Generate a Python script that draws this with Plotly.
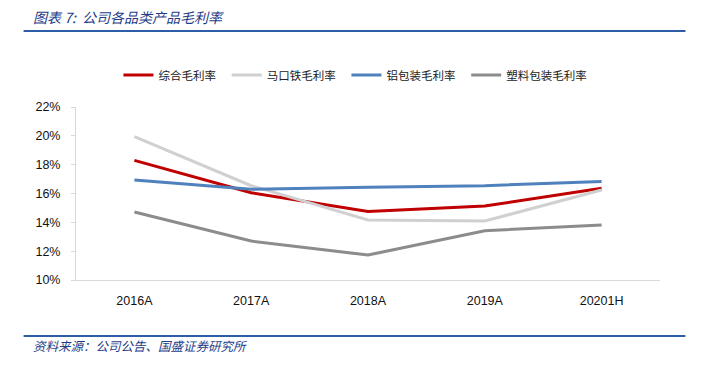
import plotly.graph_objects as go

categories = ["2016A", "2017A", "2018A", "2019A", "20201H"]
zonghe = [18.3, 16.05, 14.76, 15.13, 16.36]
makoutie = [19.94, 16.54, 14.16, 14.09, 16.24]
lvbaozhuang = [16.93, 16.29, 16.43, 16.54, 16.84]
suliao = [14.72, 12.70, 11.73, 13.42, 13.81]
series_names = ["综合毛利率", "马口铁毛利率", "铝包装毛利率", "塑料包装毛利率"]
series_colors = ["#C00000", "#D0D0D0", "#4F81BD", "#8C8C8C"]
y_ticks = [10, 12, 14, 16, 18, 20, 22]

W, H = 706, 376
OFF = 8  # page body margin offset
L, R, T, B = 75.5, 660.5, 107, 280

def px(x):
    return (x - L) / (R - L)

def py(y):
    return (B - y) / (B - T)

fig = go.Figure()
for name, vals, col in zip(series_names, [zonghe, makoutie, lvbaozhuang, suliao], series_colors):
    fig.add_trace(go.Scatter(x=categories, y=vals, mode="lines", name=name + "\u2002",
                             line=dict(color=col, width=3)))

cjk = "Noto Sans CJK SC"
fig.update_layout(
    width=W - OFF, height=H - OFF,
    margin=dict(l=L - OFF, r=W - R, t=T - OFF, b=H - B, pad=0),
    plot_bgcolor="white", paper_bgcolor="white",
    showlegend=True,
    legend=dict(orientation="h", x=px(118), xanchor="left", y=py(75), yanchor="middle",
                font=dict(family=cjk, size=11.5, color="#222222"),
                itemwidth=30, tracegroupgap=0),
    xaxis=dict(type="category", showline=True, linecolor="#D9D9D9", linewidth=1,
               ticks="", showgrid=False, range=[-0.5, 4.5], ticklabelstandoff=9,
               tickfont=dict(family="Liberation Sans", size=12.5, color="#111111")),
    yaxis=dict(range=[10, 22], tickvals=y_ticks, ticktext=[f"{v}%" for v in y_ticks],
               showline=True, linecolor="#D9D9D9", linewidth=1, ticks="outside",
               ticklen=4, tickcolor="#D9D9D9", showgrid=False, zeroline=False,
               ticklabelstandoff=8,
               tickfont=dict(family="Liberation Sans", size=12.5, color="#111111")),
)

fig.add_annotation(xref="paper", yref="paper", x=px(30), y=py(17), xanchor="left", yanchor="middle",
                   text="<i>图表 7:  公司各品类产品毛利率</i>", showarrow=False,
                   font=dict(family=cjk, size=14, color="#1F3C88"))
fig.add_annotation(xref="paper", yref="paper", x=px(30), y=py(345), xanchor="left", yanchor="middle",
                   text="<i>资料来源：公司公告、国盛证券研究所</i>", showarrow=False,
                   font=dict(family=cjk, size=12.5, color="#1F3C88"))
fig.add_shape(type="line", xref="paper", yref="paper", x0=px(23), x1=px(686), y0=py(31), y1=py(31),
              line=dict(color="#2E5DA8", width=2))
fig.add_shape(type="line", xref="paper", yref="paper", x0=px(23), x1=px(686), y0=py(336), y1=py(336),
              line=dict(color="#2E5DA8", width=2))

fig.write_html("out.html")
